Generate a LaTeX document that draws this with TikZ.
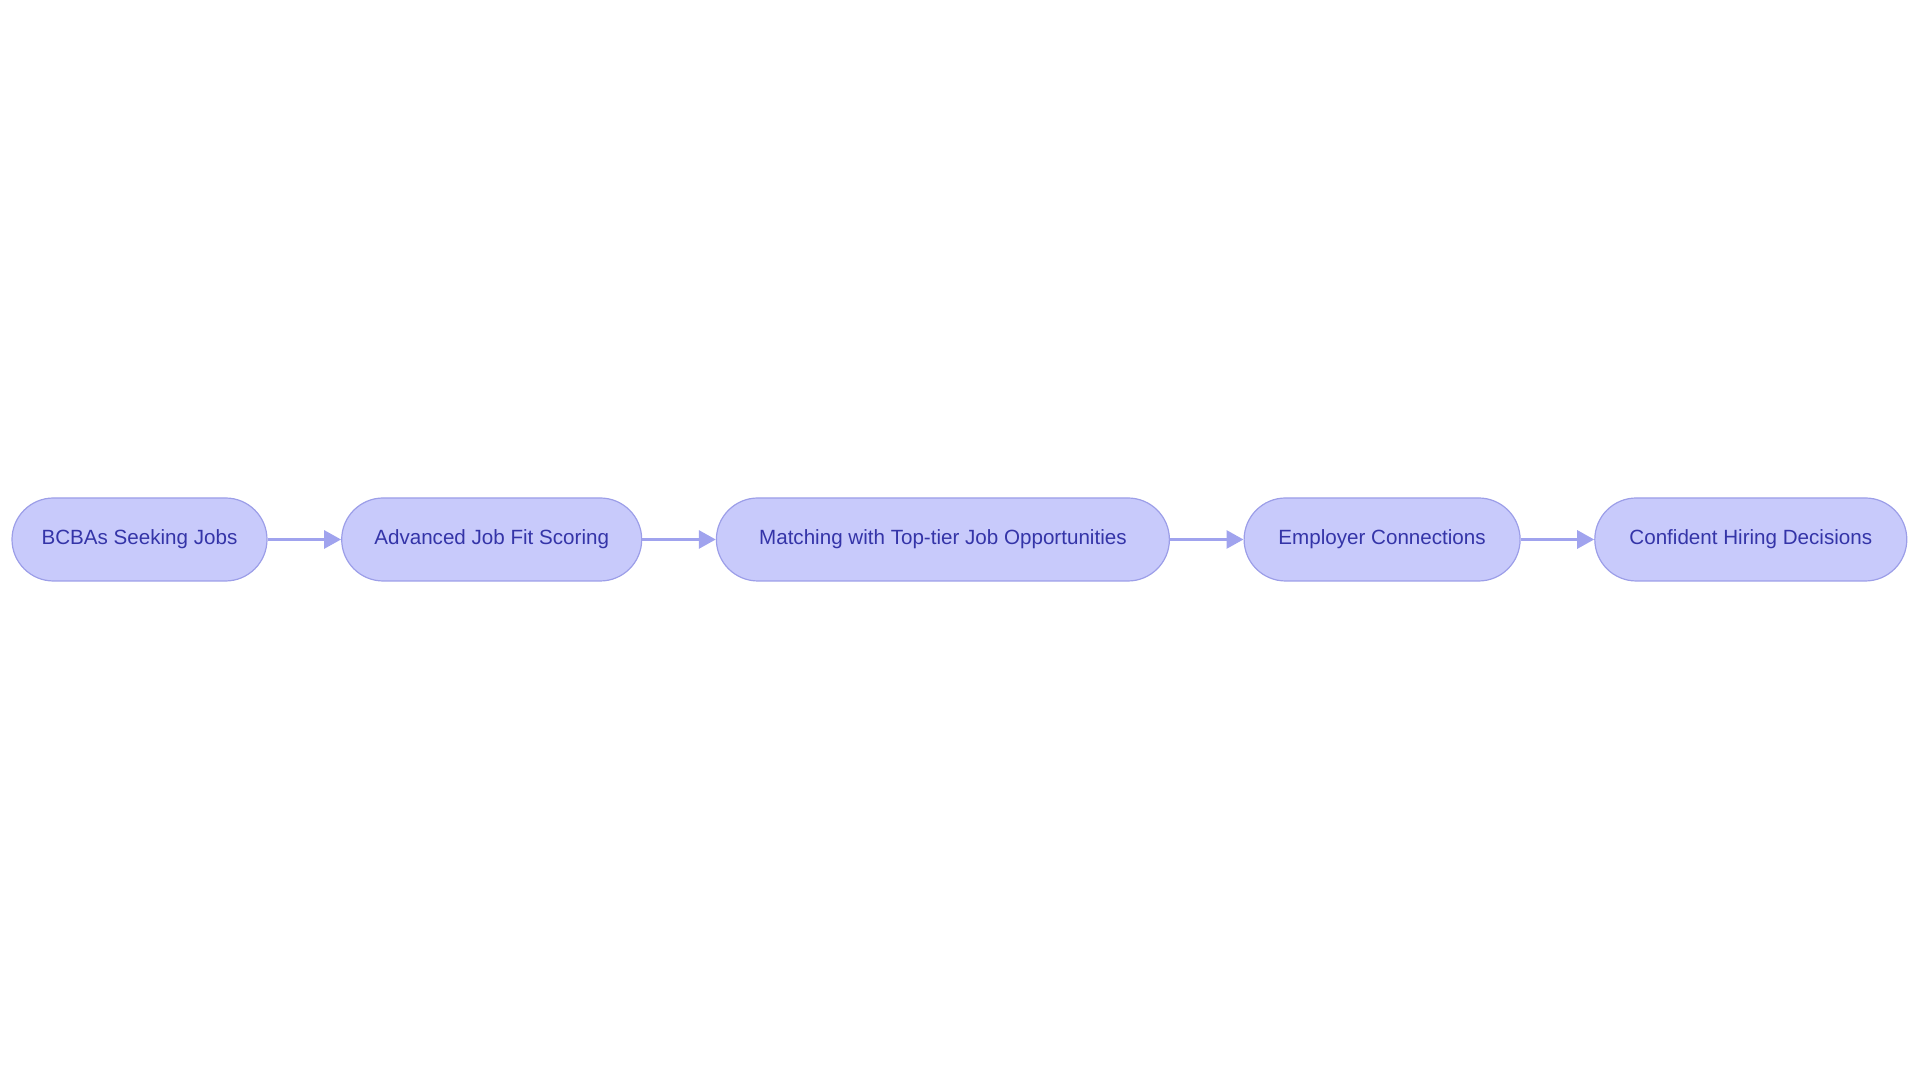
\documentclass[tikz,border=0pt]{standalone}
\usepackage{fontspec}
\setmainfont{Liberation Sans}
\usetikzlibrary{arrows.meta, positioning}
\definecolor{stagefill}{HTML}{C8CAFB}
\definecolor{stageline}{HTML}{9C9EE8}
\definecolor{stagetext}{HTML}{3434A8}
\definecolor{linkcol}{HTML}{A0A3EE}
\begin{document}
\begin{tikzpicture}[>={Triangle[length=17pt, width=18pt]}, x=1pt, y=1pt, font=\fontsize{20.6}{24}\selectfont,
    node distance=73.5pt,
    stage/.style={draw=stageline, line width=1.2pt, fill=stagefill, text=stagetext,
        rounded corners=41.5pt, minimum height=83pt, inner xsep=0pt},
    link/.style={->, draw=linkcol, line width=3pt}]
\useasboundingbox (0,0) rectangle (1920,1083);
%
\node[stage, minimum width=255pt] (seek) at (139.5, 543.5) {BCBAs Seeking Jobs};
\node[stage, minimum width=300pt, right=of seek] (score) {Advanced Job Fit Scoring};
\node[stage, minimum width=453pt, right=of score] (match) {Matching with Top-tier Job Opportunities};
\node[stage, minimum width=276pt, right=of match] (employ) {Employer Connections};
\node[stage, minimum width=312pt, right=of employ] (hire) {Confident Hiring Decisions};
%
\draw[link] (seek) -- (score);
\draw[link] (score) -- (match);
\draw[link] (match) -- (employ);
\draw[link] (employ) -- (hire);
\end{tikzpicture}
\end{document}
